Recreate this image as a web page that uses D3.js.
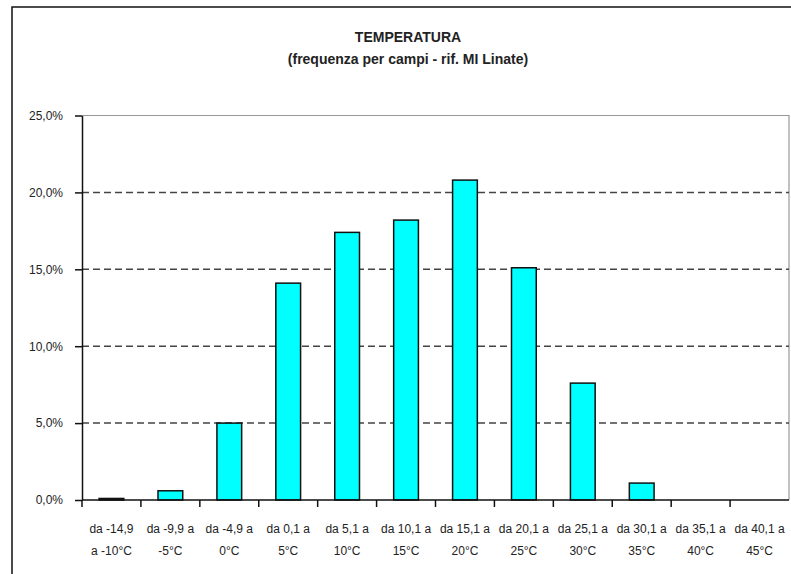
<!DOCTYPE html>
<html>
<head>
<meta charset="utf-8">
<script src="https://d3js.org/d3.v7.min.js"></script>
<style>
  body { margin: 0; background: #fff; }
  svg text { font-family: "Liberation Sans", Arial, sans-serif; fill: #222; }
</style>
</head>
<body>
<svg width="791" height="574"></svg>
<script>
// categories (two text lines each) and frequencies in %
var categories = ["-14,9", "-9,9", "-4,9", "0,1", "5,1", "10,1", "15,1", "20,1", "25,1", "30,1", "35,1", "40,1"];
var labelTop = ["da -14,9", "da -9,9 a", "da -4,9 a", "da 0,1 a", "da 5,1 a", "da 10,1 a", "da 15,1 a", "da 20,1 a", "da 25,1 a", "da 30,1 a", "da 35,1 a", "da 40,1 a"];
var labelBottom = ["a -10°C", "-5°C", "0°C", "5°C", "10°C", "15°C", "20°C", "25°C", "30°C", "35°C", "40°C", "45°C"];
var values = [0.1, 0.6, 5.0, 14.1, 17.4, 18.2, 20.8, 15.1, 7.6, 1.1, 0, 0];
var yTicks = [0, 5, 10, 15, 20, 25];

var svg = d3.select("svg");

// outer chart frame (runs off the right/bottom edge)
svg.append("rect")
    .attr("x", 12).attr("y", 7)
    .attr("width", 800).attr("height", 600)
    .attr("fill", "none").attr("stroke", "#111").attr("stroke-width", 1.5);

var plotLeft = 82, plotRight = 789, plotTop = 115.5, plotBottom = 500;

var x = d3.scaleBand()
    .domain(categories)
    .range([plotLeft, plotRight])
    .paddingInner(0.58)
    .paddingOuter(0.29);

var y = d3.scaleLinear()
    .domain([0, 25])
    .range([plotBottom, plotTop]);

// plot area border (grey)
svg.append("path")
    .attr("d", "M" + plotLeft + "," + y(25) + "H" + plotRight + "V" + plotBottom)
    .attr("fill", "none").attr("stroke", "#999").attr("stroke-width", 1.2);

// dashed gridlines
svg.append("g")
  .selectAll("line")
  .data(yTicks.filter(function(d) { return d > 0 && d < 25; }))
  .enter().append("line")
    .attr("x1", plotLeft).attr("x2", plotRight)
    .attr("y1", function(d) { return y(d); })
    .attr("y2", function(d) { return y(d); })
    .attr("stroke", "#444").attr("stroke-width", 1.5)
    .attr("stroke-dasharray", "7,4");

// bars
svg.append("g")
  .selectAll("rect")
  .data(values)
  .enter().append("rect")
    .attr("x", function(d, i) { return x(categories[i]); })
    .attr("y", function(d) { return y(d); })
    .attr("width", x.bandwidth())
    .attr("height", function(d) { return plotBottom - y(d); })
    .attr("fill", "#00ffff")
    .attr("stroke", "#111").attr("stroke-width", 1.5)
    .attr("display", function(d) { return d > 0 ? null : "none"; });

// y axis
var yAxis = svg.append("g")
    .attr("transform", "translate(" + plotLeft + ",0)")
    .call(d3.axisLeft(y)
      .tickValues(yTicks)
      .tickSize(7)
      .tickSizeOuter(0)
      .tickPadding(12)
      .tickFormat(function(d) { return d.toFixed(1).replace(".", ",") + "%"; }));
yAxis.select(".domain").attr("stroke", "#111").attr("stroke-width", 1.5);
yAxis.selectAll(".tick line").attr("stroke", "#111").attr("stroke-width", 1.5);
yAxis.selectAll(".tick text").attr("font-size", 12).attr("fill", "#222");

// x axis: baseline + ticks between categories
var step = x.step();
var edges = categories.map(function(c) { return x(c) + x.bandwidth() / 2 - step / 2; });
svg.append("line")
    .attr("x1", plotLeft).attr("x2", plotRight)
    .attr("y1", plotBottom).attr("y2", plotBottom)
    .attr("stroke", "#111").attr("stroke-width", 1.5);
svg.append("g")
  .selectAll("line")
  .data(edges)
  .enter().append("line")
    .attr("x1", function(d) { return d; }).attr("x2", function(d) { return d; })
    .attr("y1", plotBottom).attr("y2", plotBottom + 7)
    .attr("stroke", "#111").attr("stroke-width", 1.5);

var xl = svg.append("g")
    .attr("font-size", 12)
    .attr("text-anchor", "middle")
  .selectAll("g")
  .data(categories)
  .enter().append("g")
    .attr("transform", function(d) { return "translate(" + (x(d) + x.bandwidth() / 2) + ",0)"; });
xl.append("text").attr("y", 533).text(function(d, i) { return labelTop[i]; });
xl.append("text").attr("y", 555).text(function(d, i) { return labelBottom[i]; });

// titles
svg.append("text")
    .attr("x", 408).attr("y", 42)
    .attr("text-anchor", "middle")
    .attr("font-size", 14).attr("font-weight", "bold")
    .text("TEMPERATURA");
svg.append("text")
    .attr("x", 408).attr("y", 64)
    .attr("text-anchor", "middle")
    .attr("font-size", 14).attr("font-weight", "bold")
    .text("(frequenza per campi - rif. MI Linate)");
</script>
</body>
</html>
